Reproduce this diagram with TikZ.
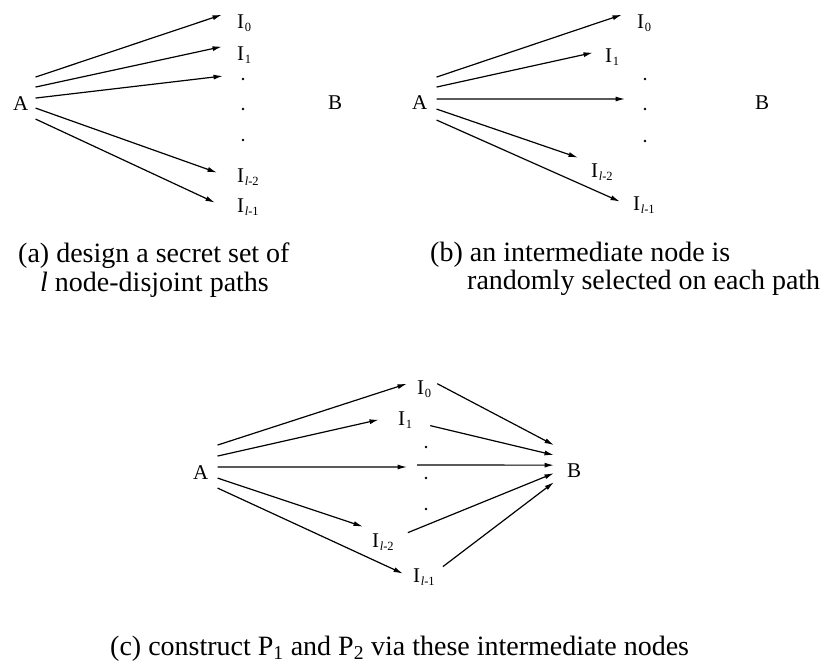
\documentclass[tikz,border=0pt]{standalone}
\usepackage{fontspec}
\setmainfont{Liberation Serif}
\usetikzlibrary{arrows.meta,positioning,calc}

% label with lowered subscript
\newcommand{\Isub}[1]{I\kern0.6pt\raisebox{-3pt}{\fontsize{12.5}{12.5}\selectfont #1}}
\newcommand{\Lsub}[1]{\Isub{\textit{l}-#1}}

\begin{document}
\begin{tikzpicture}[
	x=1pt, y=-1pt,
	>={Latex[length=9.5pt,width=5pt]},
	lbl/.style={
		font=\fontsize{21}{21}\selectfont,
		inner sep=0pt,
		anchor=base west
	},
	dotnode/.style={
		circle,
		fill,
		inner sep=0pt,
		minimum size=2.6pt
	},
	link/.style={
		draw,
		->,
		line width=1.2pt
	},
	caption/.style={
		font=\fontsize{28}{30}\selectfont,
		inner sep=0pt,
		anchor=base west
	}
	]
	\useasboundingbox (0,0) rectangle (833,668);
	
	% (a) secret set of paths
	\node[lbl] (Aa) at (13,111) {A};
	\node[lbl] (Ba) at (328,110) {B};
	\node[lbl] (Ia0) at (237,29) {\Isub{0}};
	\node[lbl] (Ia1) at (237,61) {\Isub{1}};
	\node[dotnode] (pa1) at (243,79) {};
	\node[dotnode] (pa2) at (243,109) {};
	\node[dotnode] (pa3) at (243,140) {};
	\node[lbl] (Ia2) at (237,183) {\Lsub{2}};
	\node[lbl] (Ia3) at (237,213) {\Lsub{1}};
	
	\path[link] ([shift={(7,-27)}]Aa.east) -- ([shift={(-15,-9)}]Ia0.west);
	\path[link] ([shift={(7,-17)}]Aa.east) -- ([shift={(-15,-9)}]Ia1.west);
	\path[link] ([shift={(7,-6)}]Aa.east) -- ([shift={(-20,-3)}]pa1.center);
	\path[link] ([shift={(7,4)}]Aa.east) -- ([shift={(-20,-5)}]Ia2.west);
	\path[link] ([shift={(7,15)}]Aa.east) -- ([shift={(-22,-5)}]Ia3.west);
	
	\node[caption] (capA1) at (18,263) {(a) design a secret set of};
	\node[caption] (capA2) at (40,292) {\textit{l} node-disjoint paths};
	
	% (b) one intermediate node per path
	\node[lbl] (Ab) at (412,110) {A};
	\node[lbl] (Bb) at (755,110) {B};
	\node[lbl] (Ib0) at (637,29) {\Isub{0}};
	\node[lbl] (Ib1) at (605,63) {\Isub{1}};
	\node[dotnode] (pb1) at (645,79) {};
	\node[dotnode] (pb2) at (645,109) {};
	\node[dotnode] (pb3) at (645,141) {};
	\node[lbl] (Ib2) at (591,178) {\Lsub{2}};
	\node[lbl] (Ib3) at (633,211) {\Lsub{1}};
	
	\path[link] ([shift={(9,-26)}]Ab.east) -- ([shift={(-15,-9)}]Ib0.west);
	\path[link] ([shift={(9,-16)}]Ab.east) -- ([shift={(-12,-5)}]Ib1.west);
	\path[link] ([shift={(9,-4)}]Ab.east) -- ([shift={(-20,-10)}]pb2.center);
	\path[link] ([shift={(9,6)}]Ab.east) -- ([shift={(-13,-15)}]Ib2.west);
	\path[link] ([shift={(9,17)}]Ab.east) -- ([shift={(-13,-4)}]Ib3.west);
	
	\node[caption] (capB1) at (430,262) {(b) an intermediate node is};
	\node[caption] (capB2) at (467,290) {randomly selected on each path};
	
	% (c) P1 and P2 through the intermediate nodes
	\node[lbl] (Ac) at (193,479) {A};
	\node[lbl] (Bc) at (567,477) {B};
	\node[lbl] (Ic0) at (417,395) {\Isub{0}};
	\node[lbl] (Ic1) at (398,425) {\Isub{1}};
	\node[dotnode] (pc1) at (426,447) {};
	\node[dotnode] (pc2) at (426,478) {};
	\node[dotnode] (pc3) at (426,509) {};
	\node[lbl] (Ic2) at (372,547) {\Lsub{2}};
	\node[lbl] (Ic3) at (413,582) {\Lsub{1}};
	
	\path[link] ([shift={(9,-27)}]Ac.east) -- ([shift={(-10,-6)}]Ic0.west);
	\path[link] ([shift={(9,-16)}]Ac.east) -- ([shift={(-19,0)}]Ic1.west);
	\path[link] ([shift={(9,-5)}]Ac.east) -- ([shift={(-19,-11)}]pc2.center);
	\path[link] ([shift={(9,6)}]Ac.east) -- ([shift={(-9,-15)}]Ic2.west);
	\path[link] ([shift={(9,16)}]Ac.east) -- ([shift={(-10,-3)}]Ic3.west);
	
	\path[link] ([shift={(6,-6)}]Ic0.east) -- ([shift={(-13,-25)}]Bc.west);
	\path[link] ([shift={(18,6)}]Ic1.east) -- ([shift={(-13,-15)}]Bc.west);
	\path[link] ([shift={(-9,-13)}]pc2.center) -- ([shift={(-13,-5)}]Bc.west);
	\path[link] ([shift={(14,-9)}]Ic2.east) -- ([shift={(-13,3)}]Bc.west);
	\path[link] ([shift={(8,-10)}]Ic3.east) -- ([shift={(-13,12)}]Bc.west);
	
	\node[caption] (capC) at (110,655) {(c) construct P\textsubscript{1} and P\textsubscript{2} via these intermediate nodes};
	
\end{tikzpicture}
\end{document}
